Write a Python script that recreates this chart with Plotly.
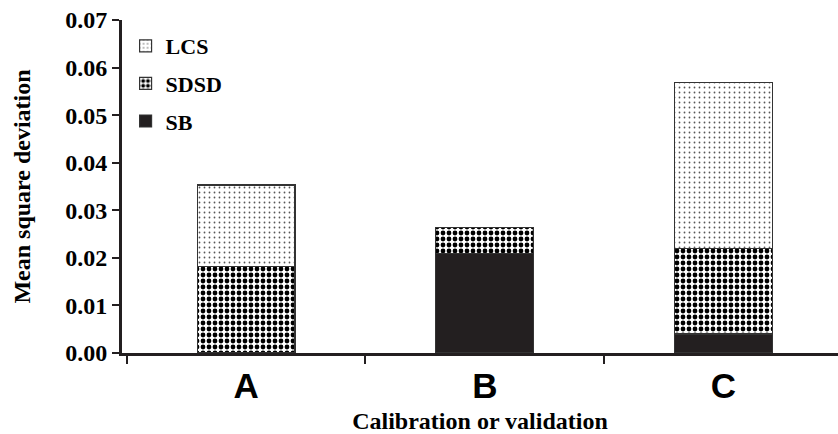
import plotly.graph_objects as go

categories = ["A", "B", "C"]
sb = [0.0, 0.0209, 0.0040]
sdsd = [0.0182, 0.0054, 0.0179]
lcs = [0.0171, 0.0, 0.0349]
y_ticks = [0.00, 0.01, 0.02, 0.03, 0.04, 0.05, 0.06, 0.07]

serif = "Liberation Serif"
line = dict(color="#333333", width=1.2)

fig = go.Figure()
fig.add_trace(go.Bar(x=categories, y=sb, name="SB", width=0.41, legendgroup="sb",
                     legendrank=3, marker=dict(color="#231f20", line=line)))
fig.add_trace(go.Bar(x=categories, y=sdsd, name="SDSD", width=0.41, legendgroup="sdsd",
                     legendrank=2,
                     marker=dict(color="white", line=line,
                                 pattern=dict(shape=".", fgcolor="black", bgcolor="white",
                                              fgopacity=1, size=6, solidity=0.5,
                                              fillmode="overlay"))))
fig.add_trace(go.Bar(x=categories, y=lcs, name="LCS", width=0.41, legendgroup="lcs",
                     legendrank=1,
                     marker=dict(color="white", line=line,
                                 pattern=dict(shape=".", fgcolor="#555555", bgcolor="white",
                                              fgopacity=1, size=5, solidity=0.1,
                                              fillmode="overlay"))))

fig.update_layout(
    barmode="stack",
    width=838, height=434,
    margin=dict(l=122, r=0, t=20, b=79),
    plot_bgcolor="white", paper_bgcolor="white",
    showlegend=True,
    legend=dict(x=0.005, y=0.985, xanchor="left", yanchor="top",
                traceorder="grouped",
                font=dict(family=serif, size=22, color="black", weight="bold"),
                bgcolor="rgba(0,0,0,0)", tracegroupgap=6),
    xaxis=dict(range=[-0.52, 2.48], showline=True, linecolor="#231f20", linewidth=3,
               ticks="outside", tickson="boundaries", ticklen=8, tickwidth=2, tickcolor="#231f20",
               tickfont=dict(family="Liberation Sans", size=35, color="black", weight="bold"),
               title=dict(text="Calibration or validation",
                          font=dict(family=serif, size=24, color="black", weight="bold"),
                          standoff=12),
               showgrid=False),
    yaxis=dict(range=[0, 0.07], tickvals=y_ticks, tickformat=".2f",
               showline=True, linecolor="#231f20", linewidth=3,
               ticks="outside", ticklen=7, tickwidth=2, tickcolor="#231f20",
               tickfont=dict(family=serif, size=24, color="black", weight="bold"),
               title=dict(text="Mean square deviation",
                          font=dict(family=serif, size=24, color="black", weight="bold"),
                          standoff=28),
               showgrid=False, zeroline=False),
)

fig.write_html("out.html", config={"displayModeBar": False},
               post_script="document.body.style.margin='0';")
